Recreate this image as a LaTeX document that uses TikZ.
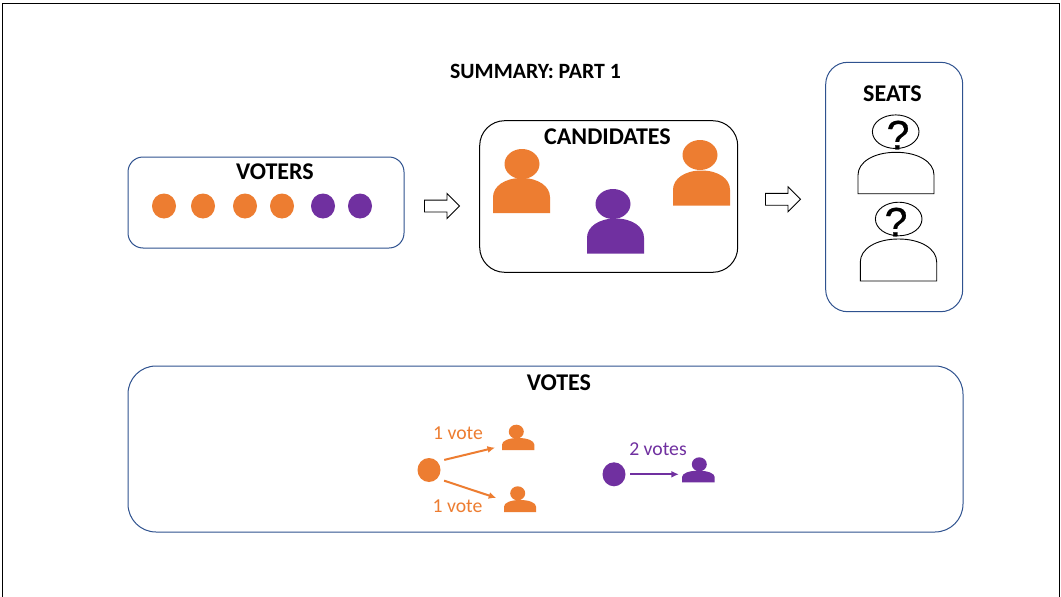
\documentclass[tikz,border=0pt]{standalone}
\usepackage{fontspec}
\setmainfont{Carlito}
\newfontfamily\qfont[FakeBold=0.6]{Liberation Sans}
\usetikzlibrary{shapes.geometric,shapes.arrows,arrows.meta}
\definecolor{orng}{HTML}{ED7D31}
\definecolor{prpl}{HTML}{7030A0}
\definecolor{bluebox}{HTML}{2F528F}
\tikzset{
  panel/.style={draw=bluebox,line width=1pt,fill=white},
  panelblack/.style={draw=black,line width=1pt,fill=white},
  title/.style={font=\bfseries\fontsize{24}{24}\selectfont,text=black,inner sep=0pt},
  votelabel/.style={font=\fontsize{19.7}{20}\selectfont,inner sep=0pt},
  dot/.style={ellipse,minimum width=24pt,minimum height=25pt,inner sep=0pt,fill=#1},
  head/.style={ellipse,inner sep=0pt,fill=#1},
  ohead/.style={ellipse,inner sep=0pt,draw=black,line width=0.9pt,fill=white,minimum width=46.6pt,minimum height=33.6pt},
  bodybox/.style={rectangle,inner sep=0pt,draw=none},
  blockarrow/.style={single arrow,draw=black,line width=0.9pt,fill=white,inner xsep=0pt,inner ysep=5.5pt,single arrow head extend=6.5pt,single arrow tip angle=90,minimum height=35pt},
  votearrow/.style={line width=2pt,-{Latex[length=7.5pt,width=7pt]}},
  qmark/.style={font=\qfont\fontsize{41}{41}\selectfont,inner sep=0pt,text=black}
}
\newcommand\bodyshape[6]{%
  \pgfmathsetmacro\bCx{(#3+#4)/2}%
  \pgfmathsetmacro\bCy{(#5+#6)/2}%
  \pgfmathsetmacro\bW{#4-#3}%
  \pgfmathsetmacro\bH{#6-#5}%
  \pgfmathsetmacro\bSy{#5+0.55*\bH}%
  \pgfmathsetmacro\bCa{#5+0.55*\bH*0.42}%
  \pgfmathsetmacro\bCl{\bCx-0.5*\bW*0.58}%
  \pgfmathsetmacro\bCr{\bCx+0.5*\bW*0.58}%
  \node[bodybox,minimum width=\bW pt,minimum height=\bH pt] (#1) at (\bCx,\bCy) {};
  \path[#2] (#3,#6) -- (#3,\bSy) .. controls (#3,\bCa) and (\bCl,#5) .. (\bCx,#5)
    .. controls (\bCr,#5) and (#4,\bCa) .. (#4,\bSy) -- (#4,#6) -- cycle;
}
\begin{document}
\begin{tikzpicture}[x=1pt,y=-1pt]
\useasboundingbox (0,0) rectangle (1061,597);
\draw[black,line width=1pt] (2,597) -- (2,3) -- (1059,3) -- (1059,597);

\node[title,font=\bfseries\fontsize{21.8}{22}\selectfont] (summary) at (535.5,71.5) {SUMMARY: PART 1};

% voters
\draw[panel,rounded corners=15pt] (128,157) rectangle (404,248);
\node[title] (voters) at (275,171.5) {VOTERS};
\node[dot=orng] (c1) at (164,206) {};
\node[dot=orng] (c2) at (203,206) {};
\node[dot=orng] (c3) at (245,206) {};
\node[dot=orng] (c4) at (282,206) {};
\node[dot=prpl] (c5) at (323,206) {};
\node[dot=prpl] (c6) at (360,206) {};

\node[blockarrow] (flow1) at (439,206) {};

% candidates
\draw[panelblack,rounded corners=25pt] (479.7,120.7) rectangle (737.7,272.3);
\node[title] (candidates) at (607.5,136.5) {CANDIDATES};
\node[head=orng,minimum width=35pt,minimum height=30pt] (h1) at (522,164) {};
\bodyshape{b1}{fill=orng}{493}{550}{178}{213}
\node[head=prpl,minimum width=35pt,minimum height=30pt] (h2) at (613,204) {};
\bodyshape{b2}{fill=prpl}{587}{644}{218.5}{253.5}
\node[head=orng,minimum width=35pt,minimum height=30pt] (h3) at (700,155) {};
\bodyshape{b3}{fill=orng}{673}{730}{170.5}{205.5}

\node[blockarrow] (flow2) at (780,199.3) {};

% seats
\draw[panel,rounded corners=22pt] (825.7,62.3) rectangle (962.7,311.7);
\node[title] (seats) at (892.5,94) {SEATS};
\node[ohead] (s1) at (895.7,131.7) {};
\bodyshape{sb1}{draw=black,line width=0.9pt,fill=white}{858}{934}{152.3}{193.7}
\node[qmark] (q1) at (898,135) {?};
\node[ohead] (s2) at (898.7,219) {};
\bodyshape{sb2}{draw=black,line width=0.9pt,fill=white}{860.3}{936.7}{239}{281}
\node[qmark] (q2) at (896,222) {?};

% votes
\draw[panel,rounded corners=28pt] (128,366) rectangle (963,532);
\node[title] (votes) at (559,382.5) {VOTES};

\node[dot=orng,minimum width=23pt,minimum height=24pt] (v1) at (429,470) {};
\node[head=orng,minimum width=15pt,minimum height=14pt] (vh1) at (516.3,431.7) {};
\bodyshape{p1}{fill=orng}{502}{534.3}{438}{450}
\node[head=orng,minimum width=15pt,minimum height=14pt] (vh2) at (517.7,493.3) {};
\bodyshape{p2}{fill=orng}{504}{536}{500}{512}
\node[votelabel,text=orng] (l1) at (458,433.5) {1 vote};
\node[votelabel,text=orng] (l2) at (457.5,506.5) {1 vote};
\draw[votearrow,orng,shorten <=7pt,shorten >=7pt] (v1.45) -- (p1.187);
\draw[votearrow,orng,shorten <=7pt,shorten >=8pt] (v1.-45) -- (p2.161);

\node[dot=prpl,minimum width=23pt,minimum height=24pt] (v2) at (614,474.3) {};
\node[head=prpl,minimum width=15pt,minimum height=14pt] (vh3) at (699.3,464.3) {};
\bodyshape{p3}{fill=prpl}{682}{714.7}{470.7}{482.3}
\node[votelabel,text=prpl] (l3) at (658,449.5) {2 votes};
\draw[votearrow,prpl,shorten <=4.5pt,shorten >=3pt] (v2.east) -- (p3.west |- v2.east);
\end{tikzpicture}
\end{document}
